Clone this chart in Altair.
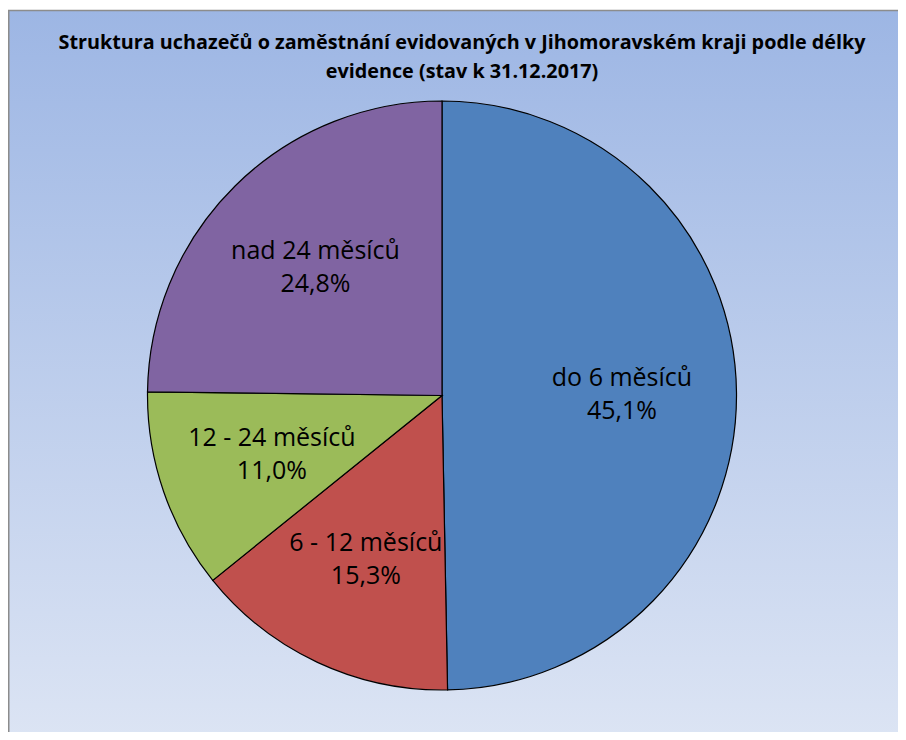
import altair as alt
import pandas as pd

# Data
categories = ["do 6 měsíců", "6  - 12 měsíců", "12 - 24 měsíců", "nad 24 měsíců"]
# slice sizes as drawn (share of the circle, %)
slice_values = [49.7, 14.5, 11.0, 24.8]
# percentages printed in the labels
label_percent = ["45,1%", "15,3%", "11,0%", "24,8%"]
colors = ["#4f81bd", "#c0504d", "#9bbb59", "#8064a2"]

title_lines = [
    "Struktura uchazečů o zaměstnání evidovaných v Jihomoravském kraji podle délky",
    "evidence (stav k 31.12.2017)",
]

df = pd.DataFrame({
    "kategorie": categories,
    "hodnota": slice_values,
    "idx": list(range(len(categories))),
    "label": [f"{c}\n{p}" for c, p in zip(categories, label_percent)],
})

W, H = 890, 724
CX, CY = 434, 387.5
R = 294.5

bg = alt.Chart(pd.DataFrame({"a": [0]})).mark_rect(
    fill=alt.Gradient(
        gradient="linear",
        stops=[alt.GradientStop(color="#9db6e4", offset=0),
               alt.GradientStop(color="#dde5f4", offset=1)],
        x1=0, x2=0, y1=0, y2=1,
    ),
    stroke="#8c8c8c",
    strokeWidth=1.5,
).encode(
    x=alt.value(0.75),
    x2=alt.value(W + 20),
    y=alt.value(2.5),
    y2=alt.value(H + 20),
)

title = alt.Chart(pd.DataFrame({"t": ["\n".join(title_lines)]})).mark_text(
    font="Open Sans", fontSize=19.8, fontWeight="bold", color="#000000",
    lineBreak="\n", lineHeight=29, align="center", baseline="middle",
).encode(
    text="t:N",
    x=alt.value(454),
    y=alt.value(34.5),
)

base = alt.Chart(df).encode(
    theta=alt.Theta("hodnota:Q", stack=True),
    order=alt.Order("idx:Q"),
)

arcs = base.mark_arc(outerRadius=R, stroke="#000000", strokeWidth=1.2).encode(
    color=alt.Color("kategorie:N",
                    scale=alt.Scale(domain=categories, range=colors),
                    legend=None),
    x=alt.value(CX),
    y=alt.value(CY),
)

texts = base.mark_text(
    radius=180, lineBreak="\n", fontSize=25, font="Open Sans",
    color="#000000", lineHeight=33, align="center", baseline="middle", dy=-16,
).encode(
    text="label:N",
    x=alt.value(CX),
    y=alt.value(CY),
)

chart = alt.layer(bg, title, arcs, texts).properties(
    width=W,
    height=H,
    padding=0,
    autosize=alt.AutoSizeParams(type="none"),
).configure_view(stroke="transparent", strokeWidth=0)

chart.save("out.html", embed_options={"renderer": "svg", "actions": False})
